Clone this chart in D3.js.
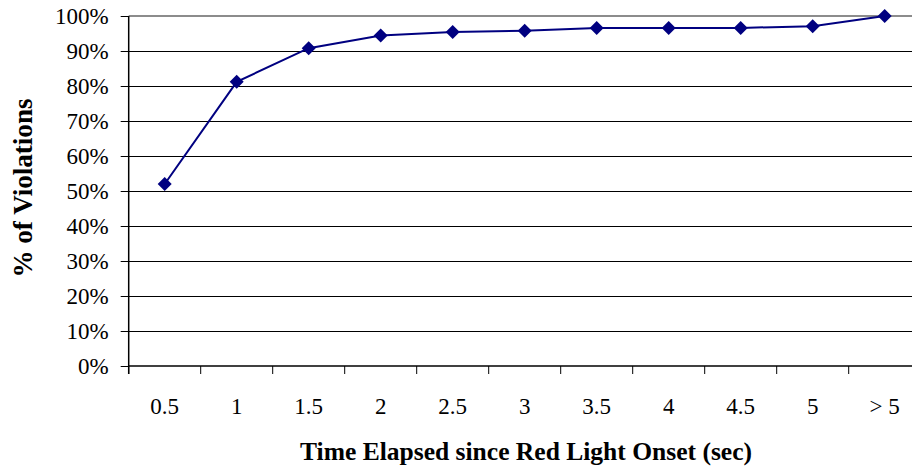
<!DOCTYPE html>
<html>
<head>
<meta charset="utf-8">
<script src="https://cdn.jsdelivr.net/npm/d3@7/dist/d3.min.js"></script>
<style>
  html, body { margin: 0; padding: 0; background: #fff; }
  svg { display: block; }
  svg text { font-family: "Liberation Serif", "Times New Roman", serif !important; fill: #000; }
</style>
</head>
<body>
<svg id="chart" width="912" height="468"></svg>
<script>
// Share of red-light violations occurring within each elapsed-time bin
const categories = ["0.5", "1", "1.5", "2", "2.5", "3", "3.5", "4", "4.5", "5", "> 5"];
const violationPct = [52.0, 81.2, 90.8, 94.4, 95.4, 95.8, 96.6, 96.6, 96.6, 97.1, 100];
const yTicks = [0, 10, 20, 30, 40, 50, 60, 70, 80, 90, 100];

const svg = d3.select("#chart");
const plotLeft = 128.7, plotTop = 16, plotBottom = 366;
const band = 72;

const x = d3.scaleBand()
  .domain(categories)
  .range([plotLeft, plotLeft + band * categories.length])
  .paddingInner(0).paddingOuter(0);

const y = d3.scaleLinear().domain([0, 100]).range([plotBottom, plotTop]);

// Horizontal gridlines
svg.append("g")
  .selectAll("line")
  .data(yTicks.filter(d => d > 0 && d < 100))
  .join("line")
  .attr("x1", plotLeft).attr("x2", 912)
  .attr("y1", d => Math.round(y(d)) + 0.5).attr("y2", d => Math.round(y(d)) + 0.5)
  .attr("stroke", "#000").attr("stroke-width", 1);

// Plot-area top border
svg.append("line")
  .attr("x1", plotLeft).attr("x2", 912)
  .attr("y1", y(100)).attr("y2", y(100))
  .attr("stroke", "#8c8c8c").attr("stroke-width", 2);

// Y axis
const yAxis = d3.axisLeft(y)
  .tickValues(yTicks)
  .tickFormat(d => d + "%")
  .tickSize(8)
  .tickPadding(12);
const gy = svg.append("g")
  .attr("transform", `translate(${plotLeft},0)`)
  .call(yAxis)
  .attr("font-family", null);
gy.select(".domain").remove();
gy.selectAll(".tick line").attr("stroke", "#000");
gy.selectAll(".tick text")
  .style("font-size", "23px")
  .attr("dy", "0.34em");
gy.append("line")
  .attr("x1", 0).attr("x2", 0)
  .attr("y1", plotTop).attr("y2", plotBottom + 8)
  .attr("stroke", "#000").attr("stroke-width", 1.5);

// X axis with ticks on band boundaries
const gx = svg.append("g")
  .attr("transform", `translate(0,${plotBottom})`);
gx.append("line")
  .attr("x1", plotLeft).attr("x2", 912)
  .attr("y1", 0).attr("y2", 0)
  .attr("stroke", "#000").attr("stroke-width", 1.5);
gx.selectAll(".bt")
  .data(categories)
  .join("line")
  .attr("class", "bt")
  .attr("x1", d => x(d)).attr("x2", d => x(d))
  .attr("y1", 0).attr("y2", 8)
  .attr("stroke", "#000");
gx.selectAll(".lbl")
  .data(categories)
  .join("text")
  .attr("class", "lbl")
  .attr("x", d => x(d) + x.bandwidth() / 2)
  .attr("y", 48)
  .attr("text-anchor", "middle")
  .style("font-size", "23px")
  .text(d => d);

// Series line and diamond markers
const cx = d => x(d) + x.bandwidth() / 2;
const pts = categories.map((c, i) => [cx(c), y(violationPct[i])]);

svg.append("path")
  .datum(pts)
  .attr("d", d3.line())
  .attr("fill", "none")
  .attr("stroke", "#000080")
  .attr("stroke-width", 2);

svg.append("g")
  .selectAll("path")
  .data(pts)
  .join("path")
  .attr("d", d3.symbol(d3.symbolSquare, 98)())
  .attr("transform", d => `translate(${d[0]},${d[1]}) rotate(45)`)
  .attr("fill", "#000080");

// Axis titles
svg.append("text")
  .attr("x", 526).attr("y", 460)
  .attr("text-anchor", "middle")
  .attr("textLength", 452).attr("lengthAdjust", "spacingAndGlyphs")
  .style("font-size", "26px").style("font-weight", "bold")
  .text("Time Elapsed since Red Light Onset (sec)");

svg.append("text")
  .attr("transform", "translate(32,188) rotate(-90)")
  .attr("text-anchor", "middle")
  .attr("textLength", 179).attr("lengthAdjust", "spacingAndGlyphs")
  .style("font-size", "27px").style("font-weight", "bold")
  .text("% of Violations");
</script>
</body>
</html>
